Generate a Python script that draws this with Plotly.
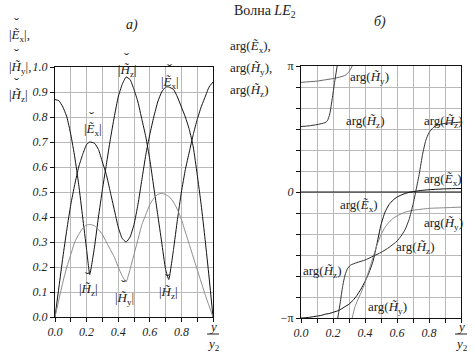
import plotly.graph_objects as go

# ---------------- data (left panel: magnitudes) ----------------
x_mag = [0.0, 0.025, 0.05, 0.075, 0.1, 0.125, 0.15, 0.175, 0.2, 0.22, 0.25, 0.275, 0.3, 0.325, 0.35,
         0.375, 0.4, 0.425, 0.45, 0.475, 0.5, 0.525, 0.55, 0.575, 0.6, 0.625, 0.65, 0.675, 0.7, 0.72,
         0.75, 0.775, 0.8, 0.825, 0.85, 0.875, 0.9, 0.925, 0.95, 0.975, 1.0]
abs_Ex = [0.0, 0.12, 0.24, 0.35, 0.45, 0.53, 0.60, 0.65, 0.69, 0.70, 0.695, 0.67, 0.62, 0.57, 0.50,
          0.43, 0.36, 0.315, 0.30, 0.32, 0.37, 0.45, 0.55, 0.65, 0.73, 0.80, 0.86, 0.90, 0.92, 0.92,
          0.91, 0.88, 0.84, 0.80, 0.75, 0.68, 0.57, 0.45, 0.31, 0.16, 0.0]
abs_Hz = [0.87, 0.865, 0.84, 0.80, 0.73, 0.64, 0.53, 0.40, 0.27, 0.17, 0.28, 0.40, 0.51, 0.61, 0.71,
          0.80, 0.88, 0.93, 0.96, 0.95, 0.91, 0.86, 0.79, 0.72, 0.63, 0.52, 0.41, 0.30, 0.19, 0.15,
          0.27, 0.39, 0.50, 0.59, 0.66, 0.73, 0.79, 0.84, 0.88, 0.92, 0.94]
x_hy = [0.0, 0.025, 0.05, 0.075, 0.1, 0.125, 0.15, 0.175, 0.2, 0.225, 0.25, 0.275, 0.3, 0.325, 0.35,
        0.375, 0.4, 0.425, 0.45, 0.475, 0.5, 0.525, 0.55, 0.575, 0.6, 0.625, 0.65, 0.675, 0.7, 0.725,
        0.75, 0.775, 0.8, 0.825, 0.85, 0.875, 0.9, 0.925, 0.95, 0.975, 1.0]
abs_Hy = [0.0, 0.07, 0.14, 0.20, 0.25, 0.30, 0.33, 0.355, 0.368, 0.37, 0.365, 0.35, 0.33, 0.30, 0.27,
          0.24, 0.20, 0.165, 0.14, 0.19, 0.25, 0.31, 0.37, 0.41, 0.45, 0.475, 0.49, 0.495, 0.49, 0.48,
          0.46, 0.43, 0.39, 0.34, 0.29, 0.24, 0.19, 0.14, 0.09, 0.045, 0.0]

# ---------------- data (right panel: phases, in units of pi) ----------------
x_argEx = [0.0, 0.025, 0.05, 0.075, 0.1, 0.125, 0.15, 0.175, 0.2, 0.225, 0.25, 0.275, 0.3, 0.325, 0.35,
           0.375, 0.4, 0.425, 0.45, 0.475, 0.5, 0.525, 0.55, 0.575, 0.6, 0.625, 0.65, 0.675, 0.7, 0.725,
           0.75, 0.8, 0.85, 0.9, 0.95, 1.0]
argEx = [-1.0, -0.998, -0.995, -0.99, -0.985, -0.98, -0.97, -0.965, -0.955, -0.945, -0.93, -0.91, -0.89,
         -0.86, -0.82, -0.77, -0.71, -0.64, -0.55, -0.41, -0.26, -0.16, -0.10, -0.065, -0.04, -0.025,
         -0.012, -0.003, 0.003, 0.008, 0.012, 0.018, 0.022, 0.025, 0.027, 0.028]
x_argHy_a = [0.0, 0.05, 0.1, 0.15, 0.2, 0.25, 0.275, 0.29, 0.3, 0.31, 0.32]
argHy_a = [0.87, 0.875, 0.88, 0.89, 0.90, 0.915, 0.925, 0.94, 0.955, 0.975, 1.0]
x_argHy_b = [0.32, 0.335, 0.35, 0.375, 0.4, 0.425, 0.45, 0.475, 0.5, 0.525, 0.55, 0.575, 0.6, 0.65,
             0.7, 0.8, 0.9, 1.0]
argHy_b = [-1.0, -0.92, -0.87, -0.80, -0.72, -0.62, -0.52, -0.42, -0.34, -0.28, -0.24, -0.21, -0.19,
           -0.16, -0.145, -0.13, -0.125, -0.12]
x_argHz_a = [0.0, 0.05, 0.1, 0.15, 0.165, 0.18, 0.195, 0.21, 0.226]
argHz_a = [0.52, 0.525, 0.535, 0.55, 0.565, 0.62, 0.74, 0.87, 1.0]
x_argHz_b = [0.23, 0.245, 0.26, 0.275, 0.29, 0.31, 0.35, 0.4, 0.45, 0.5, 0.55, 0.6, 0.625, 0.65, 0.675,
             0.7, 0.72, 0.74, 0.76, 0.78, 0.8, 0.825, 0.85, 0.9, 0.95, 1.0]
argHz_b = [-1.0, -0.88, -0.75, -0.66, -0.61, -0.58, -0.56, -0.54, -0.51, -0.48, -0.44, -0.39, -0.35,
           -0.30, -0.22, -0.10, 0.02, 0.15, 0.30, 0.41, 0.47, 0.51, 0.53, 0.545, 0.55, 0.555]

# tick labels
mag_ticks = [0.0, 0.1, 0.2, 0.3, 0.4, 0.5, 0.6, 0.7, 0.8, 0.9, 1.0]
x_ticks = [0.0, 0.1, 0.2, 0.3, 0.4, 0.5, 0.6, 0.7, 0.8, 0.9, 1.0]
x_ticklabels = ["0.0", "", "0.2", "", "0.4", "", "0.6", "", "0.8", "", ""]
phase_ticks = [-1, -5/6, -4/6, -3/6, -2/6, -1/6, 0, 1/6, 2/6, 3/6, 4/6, 5/6, 1]
phase_labels = ["\u2212\u03c0", "", "", "", "", "", "<i>0</i>", "", "", "", "", "", "\u03c0"]

SERIF = "Liberation Serif"
BLACK = "#111111"
DARK = "#333333"
MID = "#666666"
GREY = "#8a8a8a"
GRID = "#b8b8b8"
TXT = "#222222"

W = 475
H = 360

def px(x):
    return x / W

def py(y):
    return 1 - y / H

fig = go.Figure()
# left panel
fig.add_trace(go.Scatter(x=x_mag, y=abs_Ex, mode="lines", line=dict(color=BLACK, width=1, shape="spline", smoothing=0.5),
                         xaxis="x", yaxis="y", hoverinfo="skip"))
fig.add_trace(go.Scatter(x=x_mag, y=abs_Hz, mode="lines", line=dict(color=BLACK, width=1, shape="spline", smoothing=0.4),
                         xaxis="x", yaxis="y", hoverinfo="skip"))
fig.add_trace(go.Scatter(x=x_hy, y=abs_Hy, mode="lines", line=dict(color=GREY, width=1, shape="spline", smoothing=0.4),
                         xaxis="x", yaxis="y", hoverinfo="skip"))
# right panel
fig.add_trace(go.Scatter(x=x_argEx, y=argEx, mode="lines", line=dict(color=BLACK, width=1, shape="spline", smoothing=0.5),
                         xaxis="x2", yaxis="y2", hoverinfo="skip"))
fig.add_trace(go.Scatter(x=x_argHy_a, y=argHy_a, mode="lines", line=dict(color=MID, width=1, shape="spline", smoothing=0.5),
                         xaxis="x2", yaxis="y2", hoverinfo="skip"))
fig.add_trace(go.Scatter(x=x_argHy_b, y=argHy_b, mode="lines", line=dict(color=GREY, width=1, shape="spline", smoothing=0.5),
                         xaxis="x2", yaxis="y2", hoverinfo="skip"))
fig.add_trace(go.Scatter(x=x_argHz_a, y=argHz_a, mode="lines", line=dict(color=DARK, width=1, shape="spline", smoothing=0.5),
                         xaxis="x2", yaxis="y2", hoverinfo="skip"))
fig.add_trace(go.Scatter(x=x_argHz_b, y=argHz_b, mode="lines", line=dict(color=DARK, width=1, shape="spline", smoothing=0.5),
                         xaxis="x2", yaxis="y2", hoverinfo="skip"))

axis_common = dict(showgrid=True, gridcolor=GRID, gridwidth=1, zeroline=False, showline=True,
                   linecolor=BLACK, linewidth=1, mirror=True, ticks="outside", ticklen=4,
                   tickcolor=BLACK, automargin=False,
                   tickfont=dict(family=SERIF, size=12, color=TXT))

fig.update_layout(
    template="none",
    width=W, height=H, margin=dict(l=0, r=0, t=0, b=0, pad=0), autosize=False,
    paper_bgcolor="white", plot_bgcolor="white", showlegend=False,
    xaxis=dict(domain=[px(55), px(213)], range=[0, 1], tickvals=x_ticks,
               ticktext=["<i>%s</i>" % t for t in x_ticklabels], anchor="y", **axis_common),
    yaxis=dict(domain=[py(317), py(67)], range=[0, 1], tickvals=mag_ticks,
               ticktext=["<i>%.1f</i>" % t for t in mag_ticks], anchor="x", **axis_common),
    xaxis2=dict(domain=[px(301), px(461)], range=[0, 1], tickvals=x_ticks,
                ticktext=["<i>%s</i>" % t for t in x_ticklabels], anchor="y2", **axis_common),
    yaxis2=dict(domain=[py(318), py(66)], range=[-1, 1], tickvals=phase_ticks,
                ticktext=phase_labels, anchor="x2", **axis_common),
)
# zero line on phase panel
fig.add_shape(type="line", xref="x2", yref="y2", x0=0, x1=1, y0=0, y1=0, line=dict(color=BLACK, width=1))

def mag(letter, sub):
    return "|<i>%s\u0303</i><sub>%s</sub>|" % (letter, sub)

def arg(letter, sub):
    return "arg(<i>%s\u0303</i><sub>%s</sub>)" % (letter, sub)

def note(txt, x, y, xref="paper", yref="paper", xanchor="center", size=13, yshift=0, xshift=0):
    if xref == "paper":
        x = px(x)
    if yref == "paper":
        y = py(y)
    return dict(x=x, y=y, xref=xref, yref=yref, text=txt, xanchor=xanchor, yanchor="middle",
                showarrow=False, yshift=yshift, xshift=xshift,
                font=dict(family=SERIF, size=size, color=TXT))

CHECK = "\u02c7"
ann = []
# titles
ann.append(note("Волна <i>LE</i><sub>2</sub>", 265, 11, size=14))
ann.append(note("<i>а)</i>", 132, 25, size=14))
ann.append(note("<i>б)</i>", 380, 22, size=14))
# axis titles (stacked) with check marks above the letters
for txt, yy in [(mag("E", "x") + ",", 36), (mag("H", "y") + ",", 67), (mag("H", "z"), 96)]:
    ann.append(note(txt, 7, yy, xanchor="left"))
    ann.append(note(CHECK, 16, yy - 13, size=15))
for txt, yy in [(arg("E", "x") + ",", 46), (arg("H", "y") + ",", 68), (arg("H", "z"), 90)]:
    ann.append(note(txt, 228, yy, xanchor="left"))
# y / y2 labels
for xp in [213, 461]:
    ann.append(note("<i>y</i>", xp, 326))
    ann.append(note("<i>y</i><sub>2</sub>", xp, 344))
    fig.add_shape(type="line", xref="paper", yref="paper", x0=px(xp - 6), x1=px(xp + 6),
                  y0=py(334), y1=py(334), line=dict(color=TXT, width=1))
# curve labels, left panel (with check marks)
for txt, xx, yy in [(mag("H", "z"), 0.456, 0.985), (mag("E", "x"), 0.73, 0.94), (mag("E", "x"), 0.24, 0.75),
                    (mag("H", "z"), 0.215, 0.11), (mag("H", "y"), 0.44, 0.075), (mag("H", "z"), 0.72, 0.10)]:
    ann.append(note(txt, xx, yy, xref="x", yref="y"))
    ann.append(note(CHECK, xx, yy, xref="x", yref="y", size=15, yshift=13, xshift=-1))
# curve labels, right panel
for txt, xx, yy in [(arg("H", "y"), 0.43, 0.91), (arg("H", "z"), 0.40, 0.56), (arg("H", "z"), 0.89, 0.56),
                    (arg("E", "x"), 0.89, 0.10), (arg("E", "x"), 0.365, -0.11), (arg("H", "y"), 0.89, -0.25),
                    (arg("H", "z"), 0.71, -0.44), (arg("H", "z"), 0.13, -0.63), (arg("H", "y"), 0.54, -0.92)]:
    ann.append(note(txt, xx, yy, xref="x2", yref="y2"))
fig.update_layout(annotations=ann)

fig.write_html("out.html", config={"displayModeBar": False, "staticPlot": True},
               post_script="document.body.style.margin='0';document.body.style.overflow='hidden';")
